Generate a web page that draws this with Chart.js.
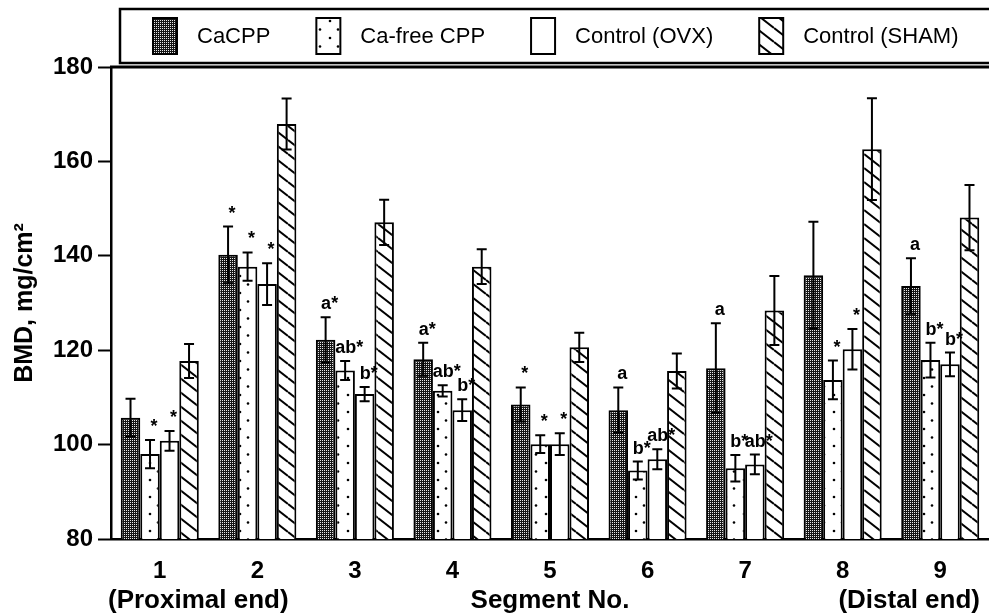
<!DOCTYPE html>
<html>
<head>
<meta charset="utf-8">
<script src="https://cdn.jsdelivr.net/npm/chart.js@4/dist/chart.umd.min.js"></script>
<style>
  html, body { margin: 0; padding: 0; background: #fff; }
  #wrap { width: 989px; height: 616px; }
</style>
</head>
<body>
<div id="wrap"><canvas id="bmd" width="989" height="616"></canvas></div>
<script>
// BMD per femur segment, four groups, mean +/- SE

const segments = ['1', '2', '3', '4', '5', '6', '7', '8', '9'];
const groupNames = ['CaCPP', 'Ca-free CPP', 'Control (OVX)', 'Control (SHAM)'];

const caCPP     = [105.7, 140.2, 122.2, 118.1, 108.5, 107.3, 116.2, 135.9, 133.6];
const caCPPErr  = [4.0, 6.0, 4.8, 3.5, 3.6, 4.8, 9.5, 11.3, 5.9];
const caFree    = [98.0, 137.7, 115.7, 111.4, 100.1, 94.5, 95.0, 113.7, 117.9];
const caFreeErr = [3.0, 3.0, 2.0, 1.2, 1.9, 1.9, 2.8, 4.1, 3.7];
const ovx       = [100.8, 134.0, 110.7, 107.3, 100.1, 96.9, 95.8, 120.2, 117.0];
const ovxErr    = [2.1, 4.4, 1.5, 2.3, 2.3, 2.1, 2.1, 4.3, 2.5];
const sham      = [117.7, 167.9, 147.1, 137.7, 120.6, 115.6, 128.4, 162.6, 148.1];
const shamErr   = [3.6, 5.4, 4.8, 3.7, 3.1, 3.7, 7.3, 10.8, 6.9];

const yTicks = [80, 100, 120, 140, 160, 180];

// significance letters: [segment index, group index, text]
const marks = [
  [0, 1, '*'], [0, 2, '*'],
  [1, 0, '*'], [1, 1, '*'], [1, 2, '*'],
  [2, 0, 'a*'], [2, 1, 'ab*'], [2, 2, 'b*'],
  [3, 0, 'a*'], [3, 1, 'ab*'], [3, 2, 'b*'],
  [4, 0, '*'], [4, 1, '*'], [4, 2, '*'],
  [5, 0, 'a'], [5, 1, 'b*'], [5, 2, 'ab*'],
  [6, 0, 'a'], [6, 1, 'b*'], [6, 2, 'ab*'],
  [7, 1, '*'], [7, 2, '*'],
  [8, 0, 'a'], [8, 1, 'b*'], [8, 2, 'b*']
];

const FONT = '"Liberation Sans", Arial, Helvetica, sans-serif';
const canvas = document.getElementById('bmd');
const ctx = canvas.getContext('2d');

function tile(w, h, draw) {
  const c = document.createElement('canvas');
  c.width = w; c.height = h;
  const g = c.getContext('2d');
  g.fillStyle = '#fff';
  g.fillRect(0, 0, w, h);
  draw(g, w, h);
  return ctx.createPattern(c, 'repeat');
}

const stipple = tile(2, 2, g => {
  g.fillStyle = '#151515'; g.fillRect(0, 0, 2, 2);
  g.fillStyle = '#e8e8e8'; g.fillRect(0, 0, 1, 1);
});
const dots = tile(18, 17, g => {
  g.fillStyle = '#000';
  g.beginPath(); g.arc(6, 4, 1.3, 0, Math.PI * 2); g.fill();
  g.beginPath(); g.arc(14, 12.5, 1.3, 0, Math.PI * 2); g.fill();
});
const hatch = tile(18, 14, (g, w, h) => {
  g.strokeStyle = '#000';
  g.lineWidth = 2;
  for (let k = -1; k <= 1; k++) {
    g.beginPath(); g.moveTo(0, k * h); g.lineTo(w, (k + 1) * h); g.stroke();
  }
});

const fills = [stipple, dots, '#fff', hatch];
const values = [caCPP, caFree, ovx, sham];
const errors = [caCPPErr, caFreeErr, ovxErr, shamErr];

const decorations = {
  id: 'decorations',
  afterDatasetsDraw(chart) {
    const c = chart.ctx;
    const y = chart.scales.y;
    c.save();
    c.strokeStyle = '#000';
    c.lineWidth = 2;
    errors.forEach((errs, di) => {
      chart.getDatasetMeta(di).data.forEach((bar, i) => {
        const v = values[di][i];
        const top = y.getPixelForValue(v + errs[i]);
        const bot = y.getPixelForValue(v - errs[i]);
        c.beginPath();
        c.moveTo(bar.x, top); c.lineTo(bar.x, bot);
        c.moveTo(bar.x - 5, top); c.lineTo(bar.x + 5, top);
        c.moveTo(bar.x - 5, bot); c.lineTo(bar.x + 5, bot);
        c.stroke();
      });
    });
    c.fillStyle = '#000';
    c.font = 'bold 18px ' + FONT;
    c.textAlign = 'center';
    c.textBaseline = 'alphabetic';
    marks.forEach(([seg, di, txt]) => {
      const bar = chart.getDatasetMeta(di).data[seg];
      const top = y.getPixelForValue(values[di][seg] + errors[di][seg]);
      c.fillText(txt, bar.x + 4, top - 8);
    });
    c.restore();
  },
  afterDraw(chart) {
    const c = chart.ctx;
    const area = chart.chartArea;
    c.save();
    c.strokeStyle = '#000';
    // top frame of plot
    c.lineWidth = 3;
    c.beginPath(); c.moveTo(area.left - 1, area.top); c.lineTo(chart.width, area.top); c.stroke();
    // legend box
    c.lineWidth = 2.5;
    c.beginPath();
    c.moveTo(chart.width + 2, 9); c.lineTo(120, 9); c.lineTo(120, 63); c.lineTo(chart.width + 2, 63);
    c.stroke();
    c.font = '22px ' + FONT;
    c.textBaseline = 'middle';
    c.textAlign = 'left';
    let x = 153;
    chart.data.datasets.forEach(ds => {
      c.fillStyle = ds.backgroundColor;
      c.fillRect(x, 18, 24, 36);
      c.lineWidth = 2;
      c.strokeRect(x, 18, 24, 36);
      c.fillStyle = '#000';
      c.fillText(ds.label, x + 44, 37);
      x += 44 + c.measureText(ds.label).width + 46;
    });
    // ends of the bone under the first and last segment
    c.font = 'bold 26px ' + FONT;
    c.textAlign = 'left';
    c.fillText('(Proximal end)', 108, 601);
    c.textAlign = 'right';
    c.fillText('(Distal end)', 980, 601);
    c.restore();
  }
};

new Chart(canvas, {
  type: 'bar',
  data: {
    labels: segments,
    datasets: groupNames.map((name, i) => ({
      label: name,
      data: values[i],
      backgroundColor: fills[i],
      borderColor: '#000',
      borderWidth: 2,
      categoryPercentage: 0.8,
      barPercentage: 1.0
    }))
  },
  options: {
    responsive: false,
    animation: false,
    devicePixelRatio: 1,
    layout: { padding: { top: 67, right: 0, left: 0, bottom: 0 } },
    plugins: { legend: { display: false }, tooltip: { enabled: false } },
    scales: {
      x: {
        afterFit: s => { s.height = 77; },
        grid: { display: false, drawTicks: false },
        border: { display: true, color: '#000', width: 2.5 },
        ticks: { color: '#000', padding: 18, font: { family: FONT, size: 24, weight: 'bold' } },
        title: {
          display: true, text: 'Segment No.', color: '#000',
          padding: { top: 0, bottom: 0 },
          font: { family: FONT, size: 26, weight: 'bold' }
        }
      },
      y: {
        min: 80,
        max: 180,
        afterFit: s => { s.width = 111; },
        afterBuildTicks: s => { s.ticks = yTicks.map(v => ({ value: v })); },
        grid: { drawOnChartArea: false, drawTicks: true, tickLength: 13, tickColor: '#000', tickWidth: 2 },
        border: { display: true, color: '#000', width: 2.5 },
        ticks: { color: '#000', padding: 5, font: { family: FONT, size: 24, weight: 'bold' } },
        title: {
          display: true, text: 'BMD, mg/cm²', color: '#000',
          padding: { top: 10, bottom: 0 },
          font: { family: FONT, size: 25, weight: 'bold' }
        }
      }
    }
  },
  plugins: [decorations]
});
</script>
</body>
</html>
